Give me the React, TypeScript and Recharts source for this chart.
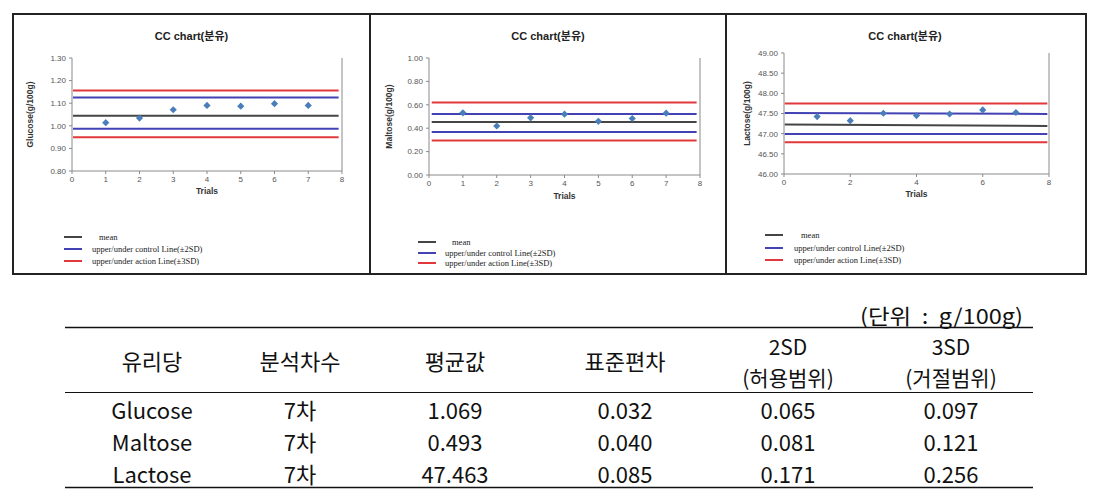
import React from 'react';
import { ComposedChart, Line, Scatter, XAxis, YAxis, ReferenceLine, Legend } from 'recharts';

// trial numbers on the x axis
const trials = [1, 2, 3, 4, 5, 6, 7];

const glucoseValues = [1.014, 1.034, 1.071, 1.09, 1.087, 1.098, 1.09];
const maltoseValues = [0.531, 0.419, 0.489, 0.52, 0.459, 0.483, 0.528];
const lactoseValues = [47.423, 47.321, 47.506, 47.449, 47.487, 47.589, 47.525];

// limit lines, order: mean, upper control, lower control, upper action, lower action
const limitKinds = ['mean', 'control', 'control', 'action', 'action'];
const glucoseLimits = [1.045, 1.125, 0.987, 1.156, 0.949];
const maltoseLimits = [0.454, 0.522, 0.367, 0.62, 0.295];
const lactoseLimitsStart = [47.225, 47.512, 46.989, 47.749, 46.785];
const lactoseLimitsEnd = [47.193, 47.49, 46.989, 47.749, 46.785];

// x range the limit lines cover
const glucoseSpan = [0.03, 7.9];
const maltoseSpan = [0.08, 7.9];
const lactoseSpan = [0.02, 7.95];

// axis ticks
const trialTicks = [0, 1, 2, 3, 4, 5, 6, 7, 8];
const lactoseTrialTicks = [0, 2, 4, 6, 8];
const glucoseTicks = [0.8, 0.9, 1.0, 1.1, 1.2, 1.3];
const maltoseTicks = [0, 0.2, 0.4, 0.6, 0.8, 1.0];
const lactoseTicks = [46, 46.5, 47, 47.5, 48, 48.5, 49];

const legendItems = [
	{ kind: 'mean', label: 'mean' },
	{ kind: 'control', label: 'upper/under control Line(±2SD)' },
	{ kind: 'action', label: 'upper/under action Line(±3SD)' },
];

// summary table
const tableHeaders = [['유리당'], ['분석차수'], ['평균값'], ['표준편차'], ['2SD', '(허용범위)'], ['3SD', '(거절범위)']];
const sugars = ['Glucose', 'Maltose', 'Lactose'];
const rounds = ['7차', '7차', '7차'];
const means = ['1.069', '0.493', '47.463'];
const stdDevs = ['0.032', '0.040', '0.085'];
const sd2 = ['0.065', '0.081', '0.171'];
const sd3 = ['0.097', '0.121', '0.256'];

const COLORS: Record<string, string> = {
	mean: '#454545',
	control: '#4242b4',
	action: '#e2383c',
};
const POINT = '#4a7ebb';
const AXIS = '#8a8a8a';

interface ChartProps {
	left: number;
	top: number;
	width: number;
	height: number;
	margin: { top: number; right: number; bottom: number; left: number };
	yAxisWidth: number;
	yLabel: string;
	yLabelOffset: number;
	trialsOffset: number;
	values: number[];
	limitsStart: number[];
	limitsEnd: number[];
	span: number[];
	yDomain: [number, number];
	yTicks: number[];
	xTicks: number[];
	legend: { left: number; top: number; rowGap: number; textLeft: number };
}

// small Excel-style diamond marker
const Diamond = (props: any) => {
	const { cx, cy } = props;
	if (cx == null || cy == null) return null;
	const r = 3.6;
	return <polygon points={`${cx},${cy - r} ${cx + r},${cy} ${cx},${cy + r} ${cx - r},${cy}`} fill={POINT} />;
};

const CcLegend = ({ textLeft, rowGap }: { textLeft: number; rowGap: number }) => (
	<div style={{ position: 'relative' }}>
		{legendItems.map((item, i) => (
			<div key={item.kind} style={{ position: 'absolute', left: 0, top: i * rowGap, height: 10, width: 200 }}>
				<div
					style={{
						position: 'absolute',
						left: 0,
						top: 4,
						width: 18,
						height: 2,
						background: COLORS[item.kind],
					}}
				/>
				<div
					style={{
						position: 'absolute',
						left: textLeft + (item.kind === 'mean' ? 7 : 0),
						top: 0,
						fontFamily: '"Liberation Serif", serif',
						fontSize: 8.5,
						lineHeight: '10px',
						color: '#1a1a1a',
						whiteSpace: 'nowrap',
					}}
				>
					{item.label}
				</div>
			</div>
		))}
	</div>
);

const ControlChart = (p: ChartProps) => {
	const points = trials.map((t, i) => ({ x: t, y: p.values[i] }));
	return (
		<div style={{ position: 'absolute', left: p.left, top: p.top, width: p.width, height: p.height }}>
			<div
				style={{
					position: 'absolute',
					left: 0,
					top: 13,
					width: p.width,
					textAlign: 'center',
					fontFamily: '"Liberation Sans", "Noto Sans CJK KR", sans-serif',
					fontWeight: 'bold',
					fontSize: 11,
					color: '#222',
				}}
			>
				CC chart(분유)
			</div>
			<ComposedChart width={p.width} height={p.height} margin={p.margin}>
				<XAxis
					dataKey='x'
					type='number'
					domain={[0, 8]}
					ticks={p.xTicks}
					allowDataOverflow
					height={20}
					stroke={AXIS}
					tickSize={3}
					tickMargin={2}
					tick={{ fontSize: 8, fill: '#555', fontFamily: '"Liberation Sans", sans-serif' }}
					label={{
						value: 'Trials',
						position: 'bottom',
						offset: p.trialsOffset,
						style: { fontSize: 8.5, fontWeight: 'bold', fill: '#333', fontFamily: '"Liberation Sans", sans-serif' },
					}}
				/>
				<YAxis
					dataKey='y'
					type='number'
					domain={p.yDomain}
					ticks={p.yTicks}
					allowDataOverflow
					width={p.yAxisWidth}
					stroke={AXIS}
					tickSize={3}
					tickMargin={3}
					tickFormatter={(v: number) => v.toFixed(2)}
					tick={{ fontSize: 8, fill: '#555', fontFamily: '"Liberation Sans", sans-serif' }}
					label={{
						value: p.yLabel,
						angle: -90,
						position: 'insideLeft',
						offset: p.yLabelOffset,
						style: {
							textAnchor: 'middle',
							fontSize: 8.5,
							fontWeight: 'bold',
							fill: '#333',
							fontFamily: '"Liberation Sans", sans-serif',
						},
					}}
				/>
				<ReferenceLine x={8} stroke={AXIS} ifOverflow='extendDomain' />
				{limitKinds.map((kind, i) => (
					<Line
						key={i}
						data={[
							{ x: p.span[0], y: p.limitsStart[i] },
							{ x: p.span[1], y: p.limitsEnd[i] },
						]}
						dataKey='y'
						stroke={COLORS[kind]}
						strokeWidth={2}
						dot={false}
						legendType='none'
						isAnimationActive={false}
					/>
				))}
				<Scatter data={points} dataKey='y' fill={POINT} shape={Diamond} legendType='none' isAnimationActive={false} />
				<Legend
					content={() => <CcLegend textLeft={p.legend.textLeft} rowGap={p.legend.rowGap} />}
					wrapperStyle={{ position: 'absolute', left: p.legend.left, top: p.legend.top, width: 250, height: 36 }}
				/>
			</ComposedChart>
		</div>
	);
};

const colCenters = [152, 300, 455, 625, 788, 951];

const SummaryTable = () => {
	const rows = sugars.map((s, i) => [s, rounds[i], means[i], stdDevs[i], sd2[i], sd3[i]]);
	const font = { fontFamily: '"Noto Sans CJK KR", sans-serif', fill: '#111' };
	return (
		<svg width={1095} height={496} style={{ position: 'absolute', left: 0, top: 0 }}>
			<text
				x={860}
				y={315}
				textLength={163}
				lengthAdjust='spacingAndGlyphs'
				dominantBaseline='central'
				fontSize={21}
				style={{ whiteSpace: 'pre' }}
				{...font}
			>
				(단위  :  g/100g)
			</text>
			<line x1={65} x2={1033} y1={327.5} y2={327.5} stroke='#111' strokeWidth={1.5} />
			<line x1={65} x2={1033} y1={392.5} y2={392.5} stroke='#111' strokeWidth={1.2} />
			<line x1={65} x2={1033} y1={487.5} y2={487.5} stroke='#111' strokeWidth={1.5} />
			{tableHeaders.map((lines, c) =>
				lines.map((t, k) => (
					<text
						key={`${c}-${k}`}
						x={colCenters[c]}
						y={lines.length === 1 ? 360 : 346 + k * 31}
						textAnchor='middle'
						dominantBaseline='central'
						fontSize={lines.length === 1 ? 22 : 21}
						{...font}
					>
						{t}
					</text>
				)),
			)}
			{rows.map((r, ri) =>
				r.map((t, c) => (
					<text
						key={`${ri}-${c}`}
						x={colCenters[c]}
						y={409 + ri * 32}
						textAnchor='middle'
						dominantBaseline='central'
						fontSize={22}
						{...font}
					>
						{t}
					</text>
				)),
			)}
		</svg>
	);
};

export default function App() {
	return (
		<div style={{ position: 'absolute', left: 0, top: 0, width: 1095, height: 496, background: '#fff' }}>
			<div
				style={{
					position: 'absolute',
					left: 12,
					top: 13,
					width: 1071,
					height: 258,
					border: '2px solid #222',
				}}
			/>
			<div style={{ position: 'absolute', left: 369, top: 13, width: 2, height: 262, background: '#222' }} />
			<div style={{ position: 'absolute', left: 725, top: 13, width: 2, height: 262, background: '#222' }} />

			<ControlChart
				left={13}
				top={14}
				width={357}
				height={259}
				margin={{ top: 44, right: 28, bottom: 46, left: 0 }}
				yAxisWidth={59}
				yLabel='Glucose(g/100g)'
				yLabelOffset={17}
				trialsOffset={-3}
				values={glucoseValues}
				limitsStart={glucoseLimits}
				limitsEnd={glucoseLimits}
				span={glucoseSpan}
				yDomain={[0.8, 1.3]}
				yTicks={glucoseTicks}
				xTicks={trialTicks}
				legend={{ left: 51, top: 218, rowGap: 12, textLeft: 28 }}
			/>
			<ControlChart
				left={370}
				top={14}
				width={356}
				height={259}
				margin={{ top: 44, right: 26, bottom: 42, left: 0 }}
				yAxisWidth={59}
				yLabel='Maltose(g/100g)'
				yLabelOffset={19}
				trialsOffset={-2}
				values={maltoseValues}
				limitsStart={maltoseLimits}
				limitsEnd={maltoseLimits}
				span={maltoseSpan}
				yDomain={[0, 1]}
				yTicks={maltoseTicks}
				xTicks={trialTicks}
				legend={{ left: 48, top: 223, rowGap: 10.5, textLeft: 27 }}
			/>
			<ControlChart
				left={726}
				top={14}
				width={358}
				height={259}
				margin={{ top: 39, right: 35, bottom: 43, left: 0 }}
				yAxisWidth={58}
				yLabel='Lactose(g/100g)'
				yLabelOffset={21}
				trialsOffset={-3}
				values={lactoseValues}
				limitsStart={lactoseLimitsStart}
				limitsEnd={lactoseLimitsEnd}
				span={lactoseSpan}
				yDomain={[46, 49]}
				yTicks={lactoseTicks}
				xTicks={lactoseTrialTicks}
				legend={{ left: 39, top: 216, rowGap: 12.5, textLeft: 29 }}
			/>

			<SummaryTable />
		</div>
	);
}
